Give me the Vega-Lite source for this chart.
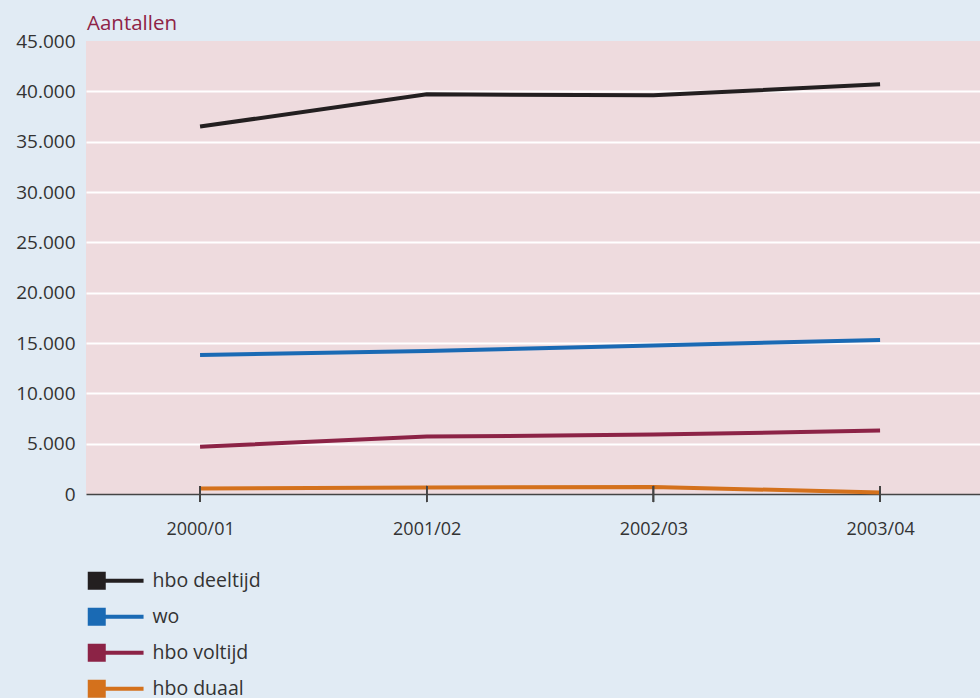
{
  "$schema": "https://vega.github.io/schema/vega-lite/v6.json",
  "autosize": {"type": "none"},
  "padding": {"left": 86, "top": 41, "right": 0, "bottom": 204},
  "width": 894,
  "height": 453,
  "background": "#e1ebf4",
  "title": {"text": "Aantallen", "anchor": "start", "frame": "group", "font": "Open Sans", "fontSize": 20.5, "fontWeight": "normal", "color": "#8e2346", "offset": -2, "dx": 1},
  "config": {
    "view": {"fill": "#eedbde", "stroke": null},
    "font": "Open Sans"
  },
  "data": {"values": [
    {"periode": "2000/01", "groep": "hbo deeltijd", "aantal": 36500},
    {"periode": "2001/02", "groep": "hbo deeltijd", "aantal": 39700},
    {"periode": "2002/03", "groep": "hbo deeltijd", "aantal": 39600},
    {"periode": "2003/04", "groep": "hbo deeltijd", "aantal": 40700},
    {"periode": "2000/01", "groep": "wo", "aantal": 13800},
    {"periode": "2001/02", "groep": "wo", "aantal": 14200},
    {"periode": "2002/03", "groep": "wo", "aantal": 14750},
    {"periode": "2003/04", "groep": "wo", "aantal": 15300},
    {"periode": "2000/01", "groep": "hbo voltijd", "aantal": 4700},
    {"periode": "2001/02", "groep": "hbo voltijd", "aantal": 5700},
    {"periode": "2002/03", "groep": "hbo voltijd", "aantal": 5900},
    {"periode": "2003/04", "groep": "hbo voltijd", "aantal": 6300},
    {"periode": "2000/01", "groep": "hbo duaal", "aantal": 550},
    {"periode": "2001/02", "groep": "hbo duaal", "aantal": 650},
    {"periode": "2002/03", "groep": "hbo duaal", "aantal": 700},
    {"periode": "2003/04", "groep": "hbo duaal", "aantal": 150}
  ]},
  "encoding": {
    "x": {"field": "periode", "type": "ordinal", "scale": {"type": "point", "padding": 0.472, "align": 0.533},
      "axis": {"title": null, "labelAngle": 0, "domainColor": "#444", "domainWidth": 1.5, "ticks": false, "labelPadding": 26, "labelFontSize": 18, "labelColor": "#333", "labelFont": "Open Sans"}}
  },
  "layer": [
    {
      "mark": {"type": "line", "strokeWidth": 4, "strokeCap": "butt", "strokeJoin": "miter", "clip": false},
      "encoding": {
        "y": {"field": "aantal", "type": "quantitative", "scale": {"domain": [0, 45000], "nice": false},
          "axis": {"title": null, "values": [0,5000,10000,15000,20000,25000,30000,35000,40000,45000], "labelExpr": "replace(format(datum.value, ','), ',', '.')", "domain": false, "ticks": false, "labelPadding": 11, "labelFontSize": 19, "labelColor": "#333", "labelFont": "Open Sans", "gridColor": "#ffffff", "gridWidth": 2, "gridOpacity": {"condition": {"test": "datum.value == 45000 || datum.value == 0", "value": 0}, "value": 1}}},
        "color": {"field": "groep", "type": "nominal",
          "scale": {"domain": ["hbo deeltijd", "wo", "hbo voltijd", "hbo duaal"], "range": ["#231f20", "#1a6ab4", "#8c2346", "#d4711c"]},
          "legend": {"title": null, "orient": "none", "legendX": 1, "legendY": 530, "direction": "vertical",
            "symbolType": "M-1,-1H1V1H-1Z M1,-0.22H5.2V0.22H1Z", "symbolSize": 324, "symbolStrokeWidth": 0, "symbolOpacity": 1,
            "labelOffset": 46, "labelFontSize": 19.5, "labelColor": "#333", "labelFont": "Open Sans", "rowPadding": 15, "padding": 0,
            "encode": {"symbols": {"update": {"fill": {"scale": "color", "field": "value"}, "fillOpacity": {"value": 1}}}}}}
      }
    },
    {
      "mark": {"type": "rule", "color": "#444", "strokeWidth": 1.5},
      "encoding": {
        "y": {"datum": -800, "type": "quantitative",
          "axis": {"title": null, "values": [0,5000,10000,15000,20000,25000,30000,35000,40000,45000], "labelExpr": "replace(format(datum.value, ','), ',', '.')", "domain": false, "ticks": false, "labelPadding": 11, "labelFontSize": 19, "labelColor": "#333", "labelFont": "Open Sans", "gridColor": "#ffffff", "gridWidth": 2, "gridOpacity": {"condition": {"test": "datum.value == 45000 || datum.value == 0", "value": 0}, "value": 1}}},
        "y2": {"datum": 800}
      }
    }
  ]
}
